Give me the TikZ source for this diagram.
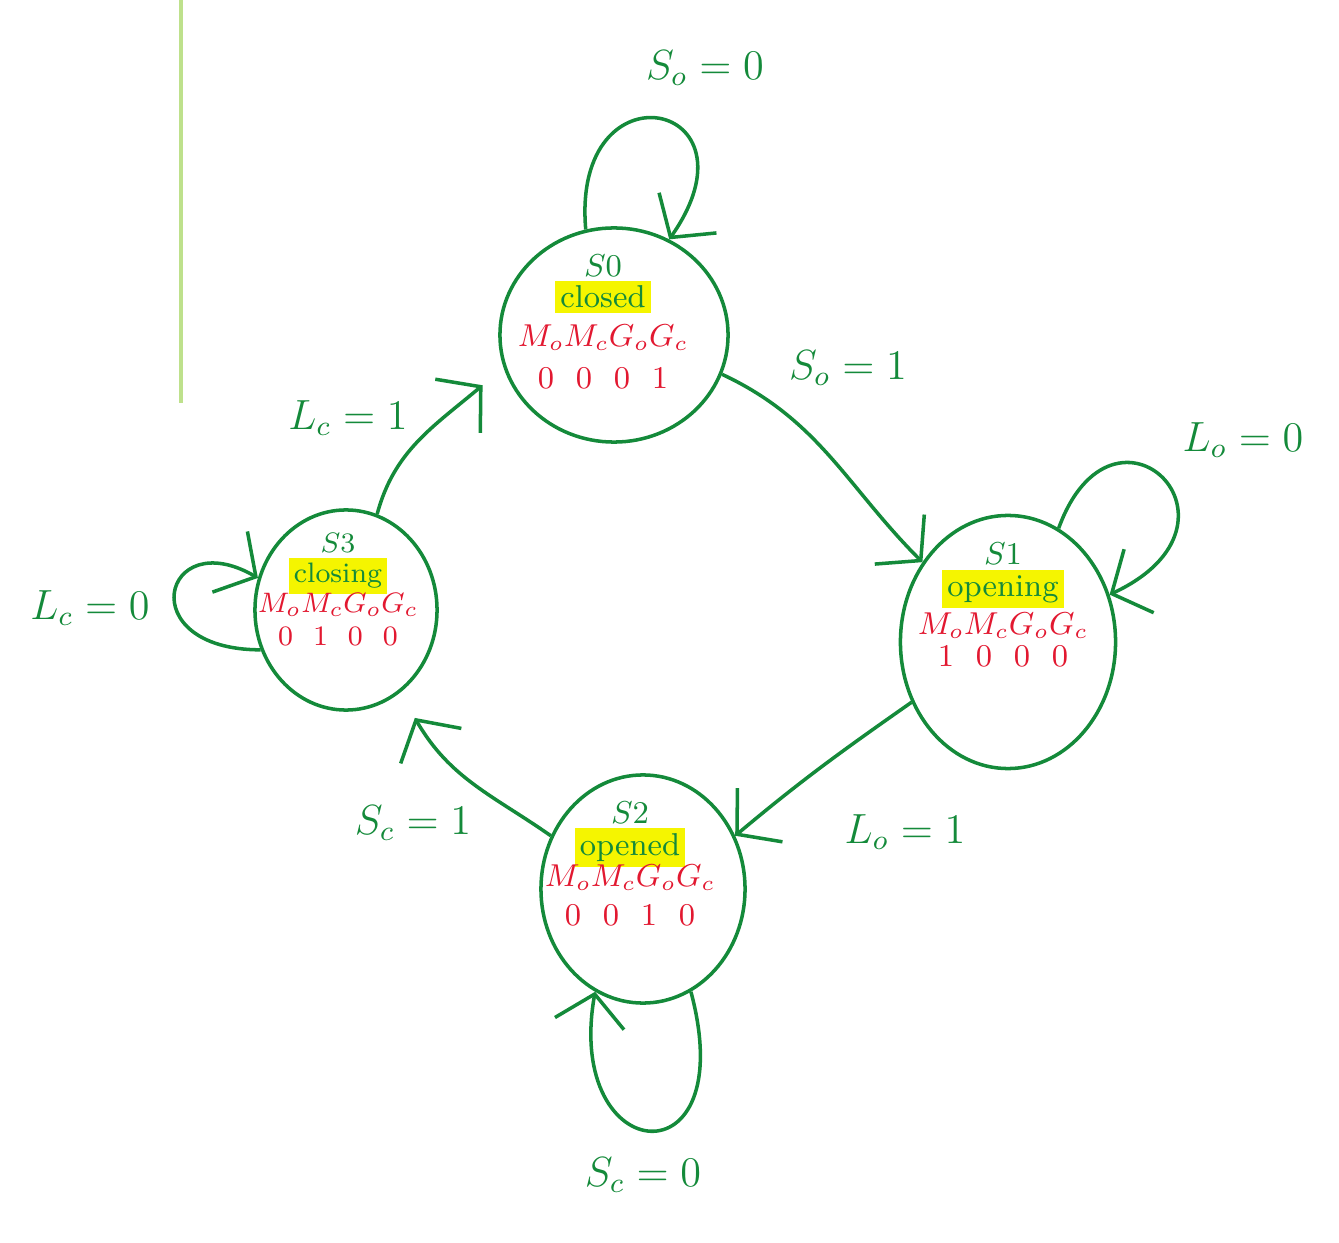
\documentclass[tikz,border=0pt]{standalone}
\usetikzlibrary{arrows.meta,shapes.geometric}
\definecolor{pen}{RGB}{20,138,58}
\definecolor{ink}{RGB}{226,24,48}
\definecolor{hl}{RGB}{245,245,0}
\definecolor{edge}{RGB}{190,225,140}
\newcommand{\hlt}[1]{{\setlength{\fboxsep}{1.5pt}\colorbox{hl}{#1}}}
\newcommand{\outs}{\textcolor{ink}{$M_oM_cG_oG_c$}}
\tikzset{
  state/.style={ellipse,draw=pen,line width=1pt,inner sep=0pt},
  stxt/.style={align=center,text=pen,font=\small,inner sep=0pt},
  trans/.style={draw=pen,line width=1pt,-{Straight Barb[length=3mm,width=7mm]}},
  lbl/.style={text=pen,font=\large}
}
\begin{document}
\begin{tikzpicture}[x=0.01cm,y=-0.01cm]
	\useasboundingbox (0,0) rectangle (1339,1243);
	\draw[edge,line width=1.2pt] (181,0) -- (181,403);
	% states
	\node[state,minimum width=2.28cm,minimum height=2.14cm] (s0) at (614,335) {};
	\node[state,minimum width=2.15cm,minimum height=2.53cm] (s1) at (1008,642) {};
	\node[state,minimum width=2.04cm,minimum height=2.28cm] (s2) at (643,889) {};
	\node[state,minimum width=1.82cm,minimum height=2.00cm] (s3) at (346,610) {};
	\node[stxt] (s0txt) at (603,322) {$S0$\\[-2pt]\hlt{closed}\\\outs\\[1pt]\textcolor{ink}{0\ \ 0\ \ 0\ \ 1}};
	\node[stxt] (s1txt) at (1003,605) {$S1$\\[-2pt]\hlt{opening}\\\outs\\[-2pt]\textcolor{ink}{1\ \ 0\ \ 0\ \ 0}};
	\node[stxt] (s2txt) at (630,864) {$S2$\\[-2pt]\hlt{opened}\\[-2pt]\outs\\\textcolor{ink}{0\ \ 0\ \ 1\ \ 0}};
	\node[stxt,font=\footnotesize] (s3txt) at (338,590) {$S3$\\[-1pt]\hlt{closing}\\[-1pt]\outs\\\textcolor{ink}{0\ \ 1\ \ 0\ \ 0}};
	% transitions
	\draw[trans] (s0.-20) to[out=-25,in=135] (s1.137);
	\draw[trans] (s1.-148) to[out=215,in=40] (s2.30);
	\draw[trans] (s2.150) to[out=145,in=-60] ([shift={(15,25)}]s3.-57);
	\draw[trans] (s3.72) to[out=75,in=-140] ([shift={(-35,-10)}]s0.212);
	% self loops
	\draw[trans] (s0.105) .. controls +(95:1.7cm) and +(55:1.7cm) .. (s0.60);
	\draw[trans] (s1.66) .. controls +(70:1.6cm) and +(25:1.7cm) .. (s1.25);
	\draw[trans] (s2.-65) .. controls +(-75:2cm) and +(-100:1.8cm) .. (s2.-115);
	\draw[trans] (s3.205) .. controls +(180:1.3cm) and +(150:1.1cm) .. (s3.160);
	% labels
	\node[lbl] (so0) at (705,68) {$S_o=0$};
	\node[lbl] (so1) at (848,368) {$S_o=1$};
	\node[lbl] (lo0) at (1243,440) {$L_o=0$};
	\node[lbl] (lo1) at (905,832) {$L_o=1$};
	\node[lbl] (sc0) at (643,1175) {$S_c=0$};
	\node[lbl] (sc1) at (413,823) {$S_c=1$};
	\node[lbl] (lc0) at (90,608) {$L_c=0$};
	\node[lbl] (lc1) at (348,418) {$L_c=1$};
\end{tikzpicture}
\end{document}
